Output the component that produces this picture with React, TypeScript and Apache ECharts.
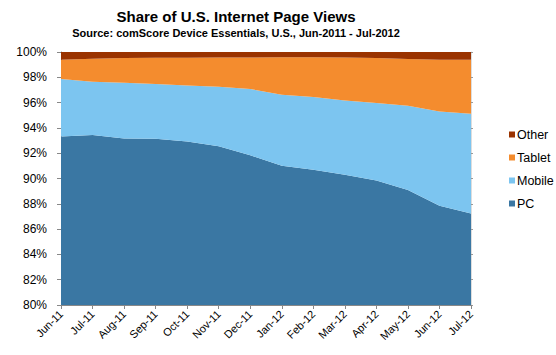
import React, { useEffect, useRef } from "react";
import * as echarts from "echarts";

const months = ["Jun-11", "Jul-11", "Aug-11", "Sep-11", "Oct-11", "Nov-11", "Dec-11", "Jan-12", "Feb-12", "Mar-12", "Apr-12", "May-12", "Jun-12", "Jul-12"];
const pc = [93.33, 93.44, 93.17, 93.15, 92.93, 92.54, 91.83, 91.01, 90.70, 90.30, 89.85, 89.10, 87.85, 87.24];
const mobile = [4.54, 4.21, 4.40, 4.32, 4.43, 4.72, 5.25, 5.61, 5.74, 5.87, 6.12, 6.65, 7.45, 7.88];
const tablet = [1.52, 1.82, 1.95, 2.08, 2.19, 2.30, 2.49, 2.96, 3.14, 3.40, 3.55, 3.70, 4.09, 4.27];
const other = [0.61, 0.53, 0.48, 0.45, 0.45, 0.44, 0.43, 0.42, 0.42, 0.43, 0.48, 0.55, 0.61, 0.61];

const FONT = "'Liberation Sans', Arial, sans-serif";

export default function App() {
  const ref = useRef<HTMLDivElement>(null);
  useEffect(() => {
    if (!ref.current) return;
    const chart = echarts.init(ref.current, null, { renderer: "svg" });
    const mk = (name: string, data: number[], color: string) => ({
      name,
      type: "line",
      stack: "total",
      data,
      symbol: "none",
      lineStyle: { width: 0 },
      areaStyle: { color, opacity: 1 },
      itemStyle: { color },
    });
    chart.setOption({
      animation: false,
      graphic: [
        {
          type: "text",
          x: 236,
          y: 9,
          style: { text: "Share of U.S. Internet Page Views", fill: "#000", font: `bold 15px ${FONT}`, textAlign: "center" },
        },
        {
          type: "text",
          x: 236,
          y: 27,
          style: { text: "Source: comScore Device Essentials, U.S., Jun-2011 - Jul-2012", fill: "#000", font: `bold 11px ${FONT}`, textAlign: "center" },
        },
      ],
      legend: {
        orient: "vertical",
        left: 504,
        top: 123,
        itemWidth: 6,
        itemHeight: 6,
        itemGap: 10,
        icon: "rect",
        data: ["Other", "Tablet", "Mobile", "PC"],
        textStyle: { fontFamily: FONT, fontSize: 12.5, color: "#000", padding: [0, 0, 0, -3] },
      },
      grid: { left: 61, right: 85, top: 52, bottom: 50 },
      xAxis: {
        type: "category",
        data: months,
        boundaryGap: false,
        axisLine: { lineStyle: { color: "#888" } },
        axisTick: { show: true, length: 4, lineStyle: { color: "#888" }, alignWithLabel: true },
        axisLabel: { rotate: 45, interval: 0, fontFamily: FONT, fontSize: 11, color: "#000", margin: 7 },
        splitLine: { show: false },
      },
      yAxis: [
        {
          type: "value",
          min: 80,
          max: 100,
          interval: 2,
          axisLine: { show: true, lineStyle: { color: "#888" } },
          axisTick: { show: true, length: 4, lineStyle: { color: "#888" } },
          axisLabel: { formatter: "{value}%", fontFamily: FONT, fontSize: 12, color: "#000", margin: 14 },
          splitLine: { show: false },
        },
        {
          type: "value",
          position: "right",
          min: 80,
          max: 100,
          interval: 2,
          axisLine: { show: true, lineStyle: { color: "#ddd" } },
          axisTick: { show: true, length: 2, lineStyle: { color: "#999" } },
          axisLabel: { show: false },
          splitLine: { show: false },
        },
      ],
      series: [
        mk("PC", pc, "#3A77A3"),
        mk("Mobile", mobile, "#7CC5F0"),
        mk("Tablet", tablet, "#F48C2E"),
        mk("Other", other, "#9A3300"),
      ],
    });
    return () => chart.dispose();
  }, []);
  return <div ref={ref} style={{ width: 556, height: 355, position: "absolute", left: 0, top: 0 }} />;
}
